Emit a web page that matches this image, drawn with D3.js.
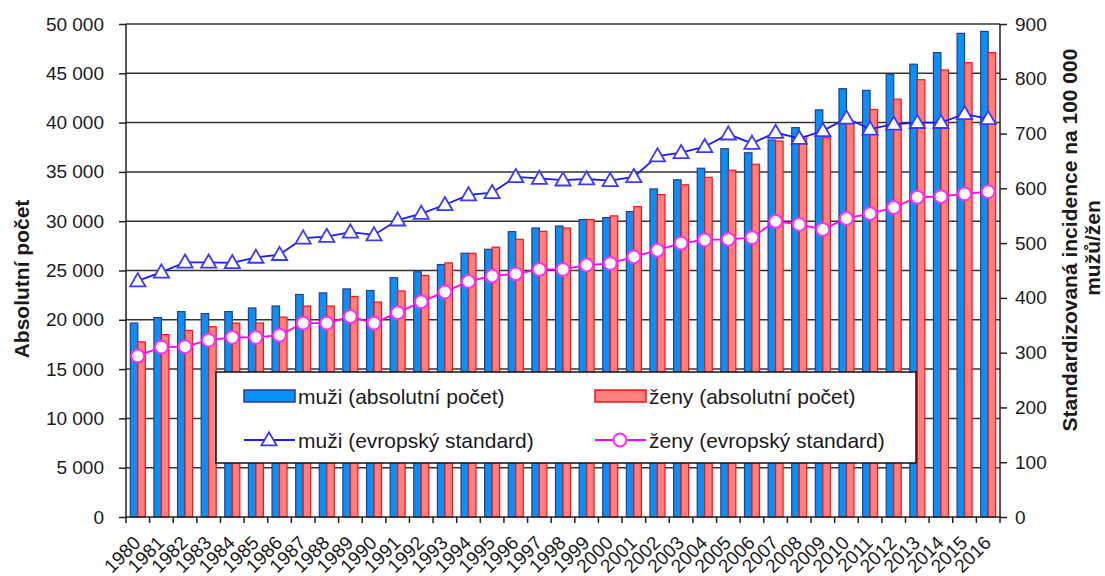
<!DOCTYPE html>
<html><head><meta charset="utf-8">
<script src="https://cdn.jsdelivr.net/npm/d3@7"></script>
<style>
body{margin:0;background:#fff}
svg{display:block}
text{font-family:"Liberation Sans",Arial,sans-serif;fill:#1a1a1a}
</style>
</head><body>
<svg id="c" width="1105" height="576"></svg>
<script>
// ---- data ----
const years = ["1980","1981","1982","1983","1984","1985","1986","1987","1988","1989",
  "1990","1991","1992","1993","1994","1995","1996","1997","1998","1999",
  "2000","2001","2002","2003","2004","2005","2006","2007","2008","2009",
  "2010","2011","2012","2013","2014","2015","2016"];
const menCount = [19670,20230,20830,20630,20830,21200,21400,22570,22730,23130,
  22970,24270,24870,25600,26750,27150,28940,29310,29510,30170,
  30370,30980,33270,34200,35370,37350,36940,38230,39490,41290,
  43440,43270,44900,45920,47100,49050,49250];
const womenCount = [17770,18500,18930,19300,19670,19670,20270,21400,21400,22370,
  21800,22930,24500,25770,26750,27360,28160,28970,29310,30170,
  30540,31480,32700,33690,34450,35170,35780,38130,38600,38470,
  40100,41330,42380,44350,45340,46080,47100];
const menStd = [431,447,465,465,464,474,479,509,512,520,
  515,542,554,570,588,592,621,618,615,617,
  614,621,659,665,676,699,682,702,691,705,
  728,708,717,720,720,736,727];
const womenStd = [294,310,311,323,328,328,332,354,354,366,
  354,373,393,411,430,440,444,452,452,460,
  463,475,487,500,506,507,510,540,534,525,
  545,554,565,584,585,590,594];
const leftTicks = [0,5000,10000,15000,20000,25000,30000,35000,40000,45000,50000];
const rightTicks = [0,100,200,300,400,500,600,700,800,900];
const seriesNames = ["muži (absolutní počet)","ženy (absolutní počet)",
  "muži (evropský standard)","ženy (evropský standard)"];
const leftTitle = "Absolutní počet";
const rightTitle = ["Standardizovaná incidence na 100 000","mužů/žen"];

// ---- layout ----
const L=126, R=1000, T=24, B=517;
const svg = d3.select("#c");
const x = d3.scaleBand().domain(years).range([L,R]);
const xi = d3.scaleBand().domain(["m","f"]).range([0,x.bandwidth()]).paddingOuter(0.575);
const y = d3.scaleLinear().domain([0,50000]).range([B,T]);
const y2 = d3.scaleLinear().domain([0,900]).range([B,T]);
const loc = d3.formatLocale({decimal:",",thousands:"\u00a0",grouping:[3],currency:["",""]});
const fmt = loc.format(",d");

const cBlue="#0a90f2", sBlue="#2c3a96", cRed="#ff8080", sRed="#ff1010";

// gridlines
svg.append("g").selectAll("line").data(leftTicks.filter(d=>d>0)).join("line")
  .attr("x1",L).attr("x2",R).attr("y1",d=>y(d)).attr("y2",d=>y(d))
  .attr("stroke","#333").attr("stroke-width",1.5);

// bars
const bars = svg.append("g");
years.forEach((yr,i)=>{
  bars.append("rect").attr("x",x(yr)+xi("m")).attr("y",y(menCount[i]))
    .attr("width",xi.bandwidth()).attr("height",B-y(menCount[i]))
    .attr("fill",cBlue).attr("stroke",sBlue).attr("stroke-width",1.2);
  bars.append("rect").attr("x",x(yr)+xi("f")).attr("y",y(womenCount[i]))
    .attr("width",xi.bandwidth()).attr("height",B-y(womenCount[i]))
    .attr("fill",cRed).attr("stroke",sRed).attr("stroke-width",1.2);
});

// axes
const ax = svg.append("g").attr("transform",`translate(${L},0)`)
  .call(d3.axisLeft(y).tickValues(leftTicks).tickFormat(fmt).tickSize(7).tickPadding(15));
const ax2 = svg.append("g").attr("transform",`translate(${R},0)`)
  .call(d3.axisRight(y2).tickValues(rightTicks).tickSize(7).tickPadding(8));
[ax,ax2].forEach(a=>{
  a.select(".domain").attr("stroke","#222").attr("stroke-width",1.5).attr("d",`M0,${T}V${B}`);
  a.selectAll(".tick line").attr("stroke","#222").attr("stroke-width",1.5);
  a.selectAll("text").style("font-size","19px").attr("fill","#1a1a1a");
});

// x axis
const xa = svg.append("g").attr("transform",`translate(0,${B})`)
  .call(d3.axisBottom(x).tickSize(0).tickPadding(0));
xa.select(".domain").attr("d",`M${L},0H${R}`).attr("stroke","#222").attr("stroke-width",1.5);
xa.selectAll(".tick text").style("font-size","19px").attr("fill","#222")
  .attr("text-anchor","end").attr("y",0).attr("dy",0)
  .attr("transform","translate(4,27) rotate(-45)");
svg.append("g").selectAll("line").data(years.map(d=>x(d)).concat([R])).join("line")
  .attr("x1",d=>d).attr("x2",d=>d).attr("y1",B).attr("y2",B+6)
  .attr("stroke","#222").attr("stroke-width",1.5);

// lines
const lineM = d3.line().x((d,i)=>x(years[i])+x.bandwidth()/2).y(d=>y2(d));
svg.append("path").datum(menStd).attr("d",lineM).attr("fill","none")
  .attr("stroke","#1a1aff").attr("stroke-width",1.8);
svg.append("path").datum(womenStd).attr("d",lineM).attr("fill","none")
  .attr("stroke","#ff00ff").attr("stroke-width",1.8);
const tri = d3.symbol().type(d3.symbolTriangle).size(100);
svg.append("g").selectAll("path").data(menStd).join("path")
  .attr("d",tri).attr("transform",(d,i)=>`translate(${x(years[i])+x.bandwidth()/2},${y2(d)+1})`)
  .attr("fill","#fff").attr("stroke","#3a3aff").attr("stroke-width",1.8);
svg.append("g").selectAll("circle").data(womenStd).join("circle")
  .attr("cx",(d,i)=>x(years[i])+x.bandwidth()/2).attr("cy",d=>y2(d)).attr("r",6.4)
  .attr("fill","#fff").attr("stroke","#ff30ff").attr("stroke-width",2);

// titles
svg.append("text").attr("transform","translate(29,279) rotate(-90)")
  .attr("text-anchor","middle").style("font-size","21px").style("font-weight","bold").text(leftTitle);
svg.append("text").attr("transform","translate(1077,240) rotate(-90)")
  .attr("text-anchor","middle").style("font-size","21px").style("font-weight","bold").text(rightTitle[0]);
svg.append("text").attr("transform","translate(1100,248) rotate(-90)")
  .attr("text-anchor","middle").style("font-size","21px").style("font-weight","bold").text(rightTitle[1]);

// legend
const lg = svg.append("g");
lg.append("rect").attr("x",216).attr("y",372).attr("width",700).attr("height",91)
  .attr("fill","#fff").attr("stroke","#111").attr("stroke-width",1.5);
const rows=[396,440], cols=[244,595];
lg.append("rect").attr("x",cols[0]).attr("y",rows[0]-6).attr("width",51).attr("height",12)
  .attr("fill",cBlue).attr("stroke",sBlue).attr("stroke-width",1.5);
lg.append("rect").attr("x",cols[1]).attr("y",rows[0]-6).attr("width",51).attr("height",12)
  .attr("fill",cRed).attr("stroke",sRed).attr("stroke-width",1.5);
lg.append("line").attr("x1",cols[0]).attr("x2",cols[0]+51).attr("y1",rows[1]).attr("y2",rows[1])
  .attr("stroke","#1a1aff").attr("stroke-width",1.8);
lg.append("path").attr("d",tri).attr("transform",`translate(${cols[0]+25},${rows[1]+1})`)
  .attr("fill","#fff").attr("stroke","#3a3aff").attr("stroke-width",1.8);
lg.append("line").attr("x1",cols[1]).attr("x2",cols[1]+51).attr("y1",rows[1]).attr("y2",rows[1])
  .attr("stroke","#ff00ff").attr("stroke-width",1.8);
lg.append("circle").attr("cx",cols[1]+25).attr("cy",rows[1]).attr("r",6.4)
  .attr("fill","#fff").attr("stroke","#ff30ff").attr("stroke-width",2);
[[0,0],[1,0],[0,1],[1,1]].forEach(([c,r],k)=>{
  lg.append("text").attr("x",cols[c]+54).attr("y",rows[r]).attr("dy","0.36em")
    .style("font-size","21px").text(seriesNames[k]);
});
</script>
</body></html>
